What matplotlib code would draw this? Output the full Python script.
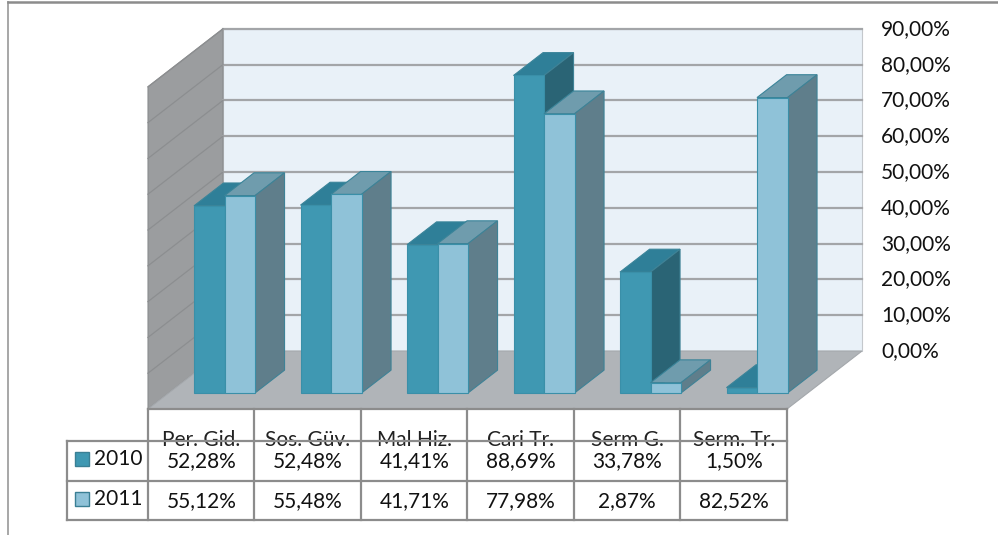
import matplotlib
matplotlib.use("Agg")
import matplotlib.pyplot as plt
from matplotlib.patches import Polygon, Rectangle

categories = ["Per. Gid.", "Sos. Güv.", "Mal Hiz.", "Cari Tr.", "Serm G.", "Serm. Tr."]
years = ["2010", "2011"]
values_2010 = [52.28, 52.48, 41.41, 88.69, 33.78, 1.50]
values_2011 = [55.12, 55.48, 41.71, 77.98, 2.87, 82.52]
y_ticks = [0, 10, 20, 30, 40, 50, 60, 70, 80, 90]

# colours: front, top, side
colors_2010 = ("#3f98b2", "#2f7f98", "#2a6475")
colors_2011 = ("#8fc2d8", "#6f9cad", "#5f7e8b")

plt.rcParams["font.family"] = ["Lato", "DejaVu Sans"]

W, H = 998, 535
fig = plt.figure(figsize=(W / 100, H / 100), dpi=100)

# chart axes: x in categories, y in percent
PX_X = 106.5
PX_Y = 3.58
X0, Y0 = 148, 409
ax = fig.add_axes([0, 0, 1, 1])
ax.set_xlim(-X0 / PX_X, (W - X0) / PX_X)
ax.set_ylim((Y0 - H) / PX_Y, Y0 / PX_Y)
ax.axis("off")

DX = 75 / PX_X
DY = 58 / PX_Y


def pt(x, y, d=0):
    # oblique projection, d=0 front of the floor, d=1 back wall
    return (x + d * DX, y + d * DY)


def face(pts, color, edge=None, z=2):
    ax.add_patch(Polygon(pts, closed=True, facecolor=color, edgecolor=edge or color,
                         linewidth=0.8, zorder=z))


n = len(categories)
top = y_ticks[-1]

# walls and floor
face([pt(0, 0, 1), pt(n, 0, 1), pt(n, top, 1), pt(0, top, 1)], "#e9f1f8", "#c4c8cc", 1)
face([pt(0, 0, 0), pt(0, 0, 1), pt(0, top, 1), pt(0, top, 0)], "#9b9d9f", "#8a8c8e", 1)
face([pt(0, 0, 0), pt(n, 0, 0), pt(n, 0, 1), pt(0, 0, 1)], "#b0b4b8", "#a4a8ac", 1.5)

for t in y_ticks[1:]:
    ax.plot(*zip(pt(0, t, 1), pt(n, t, 1)), color="#a3a5a8", lw=1.6, zorder=1.2)
    ax.plot(*zip(pt(0, t, 0), pt(0, t, 1)), color="#8c8e90", lw=0.9, zorder=1.2)

# bars
BAR_W = 30.5 / PX_X
GAP = 25.3 / PX_X
D0, D1 = 0.276, 0.67


def bar(x, v, colors):
    front, topc, side = colors
    w = BAR_W
    face([pt(x, v, D0), pt(x + w, v, D0), pt(x + w, v, D1), pt(x, v, D1)], topc, "#3a8499", 3)
    face([pt(x + w, 0, D0), pt(x + w, 0, D1), pt(x + w, v, D1), pt(x + w, v, D0)], side, "#3f8296", 3)
    face([pt(x, 0, D0), pt(x + w, 0, D0), pt(x + w, v, D0), pt(x, v, D0)], front, "#3a8fa8", 3)


for i in range(n):
    bar(i + GAP, values_2010[i], colors_2010)
    bar(i + GAP + BAR_W, values_2011[i], colors_2011)

# value axis labels on the right
for t in y_ticks:
    lx, ly = pt(n, t, 1)
    ax.text(lx + 19 / PX_X, ly, f"{t},00%", ha="left", va="center", fontsize=15, color="#111111")

# overlay in pixels for frame and data table
ov = fig.add_axes([0, 0, 1, 1])
ov.set_xlim(0, W)
ov.set_ylim(H, 0)
ov.axis("off")
ov.patch.set_alpha(0)

LINE = "#8c8c8c"
ov.plot([8, 8], [2, H], color="#a0a0a0", lw=1.3)
ov.plot([8, W], [2, 2], color="#8c8c8c", lw=1.8)

cell_x = [148 + PX_X * i for i in range(n + 1)]
rows_y = [441, 481, 520]
for cx in cell_x:
    ov.plot([cx, cx], [409, rows_y[-1]], color=LINE, lw=1.6)
for ry in rows_y:
    ov.plot([67, cell_x[-1]], [ry, ry], color=LINE, lw=1.6, zorder=5)
ov.plot([67, 67], [rows_y[0], rows_y[-1]], color=LINE, lw=1.6)
ov.plot([148, cell_x[-1]], [409, 409], color=LINE, lw=1.6)

for i, name in enumerate(categories):
    xc = (cell_x[i] + cell_x[i + 1]) / 2
    ov.text(xc, 440, name, ha="center", va="center", fontsize=15, color="#222222", zorder=4)
    ov.text(xc, 461, f"{values_2010[i]:.2f}".replace(".", ",") + "%", ha="center", va="center",
            fontsize=15, color="#111111")
    ov.text(xc, 501, f"{values_2011[i]:.2f}".replace(".", ",") + "%", ha="center", va="center",
            fontsize=15, color="#111111")

for label, ry, cols in [(years[0], 459, colors_2010), (years[1], 499, colors_2011)]:
    ov.add_patch(Rectangle((75.5, ry - 7), 14, 14, facecolor=cols[0], edgecolor="#3a7f94", lw=1))
    ov.text(94, ry, label, ha="left", va="center", fontsize=15, color="#111111")

fig.savefig("out.png", dpi=100, facecolor="white")
